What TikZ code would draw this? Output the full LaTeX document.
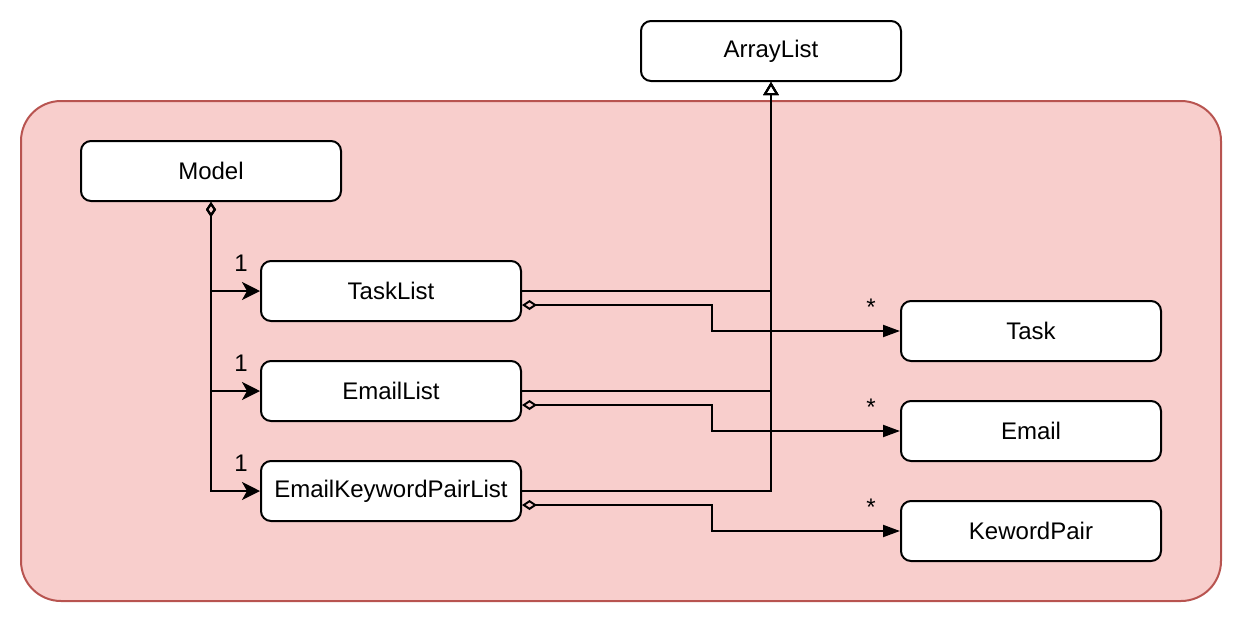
\documentclass[tikz,border=0pt]{standalone}
\usepackage{fontspec}
\setmainfont{Liberation Sans}
\usetikzlibrary{arrows.meta}
\definecolor{contfill}{HTML}{F8CECC}
\definecolor{contline}{HTML}{B85450}
\begin{document}
\begin{tikzpicture}[x=0.5pt,y=-0.5pt,
  cls/.style={draw=black, fill=white, line width=1pt, rounded corners=5pt,
    minimum width=130pt, minimum height=30pt, inner sep=0pt, font=\fontsize{12pt}{14pt}\selectfont},
  conn/.style={line width=1pt, draw=black},
  compo/.style={conn, {Diamond[open,length=7.5pt,width=5pt]}-{Stealth[length=9pt,width=9pt,inset=2.5pt]}},
  gen/.style={conn, -{Triangle[open,length=6.5pt,width=7.5pt]}},
  agg/.style={conn, {Diamond[open,length=7.5pt,width=5pt]}-{Triangle[length=8.5pt,width=6pt]}},
  lbl/.style={inner sep=0pt, font=\fontsize{12pt}{14pt}\selectfont}
]
\useasboundingbox (0,0) rectangle (1244,622);
\node[draw=contline, fill=contfill, line width=1pt, rounded corners=20pt,
  minimum width=600pt, minimum height=250pt, inner sep=0pt] (cont) at (621,351) {};
\node[cls] (AL) at (771,51) {ArrayList};
\node[cls] (M) at (211,171) {Model};
\node[cls] (TL) at (391,291) {TaskList};
\node[cls] (EL) at (391,391) {EmailList};
\node[cls] (EKPL) at (391,491) {EmailKeywordPairList};
\node[cls] (T) at (1031,331) {Task};
\node[cls] (E) at (1031,431) {Email};
\node[cls] (KP) at (1031,531) {KewordPair};
% composition from Model
\draw[compo] (M.south) |- (TL.west);
\draw[compo] (M.south) |- (EL.west);
\draw[compo] (M.south) |- (EKPL.west);
\node[lbl] (l1) at (241,263) {1};
\node[lbl] (l2) at (241,363) {1};
\node[lbl] (l3) at (241,463) {1};
% generalization to ArrayList
\draw[gen] (TL.east) -| (AL.south);
\draw[gen] (EL.east) -| (AL.south);
\draw[gen] (EKPL.east) -| (AL.south);
% aggregation
\draw[agg] ([yshift=-7pt]TL.east) -- ++(190,0) |- (T.west);
\draw[agg] ([yshift=-7pt]EL.east) -- ++(190,0) |- (E.west);
\draw[agg] ([yshift=-7pt]EKPL.east) -- ++(190,0) |- (KP.west);
\node[lbl] (s1) at (871,307) {*};
\node[lbl] (s2) at (871,407) {*};
\node[lbl] (s3) at (871,507) {*};
\end{tikzpicture}
\end{document}
